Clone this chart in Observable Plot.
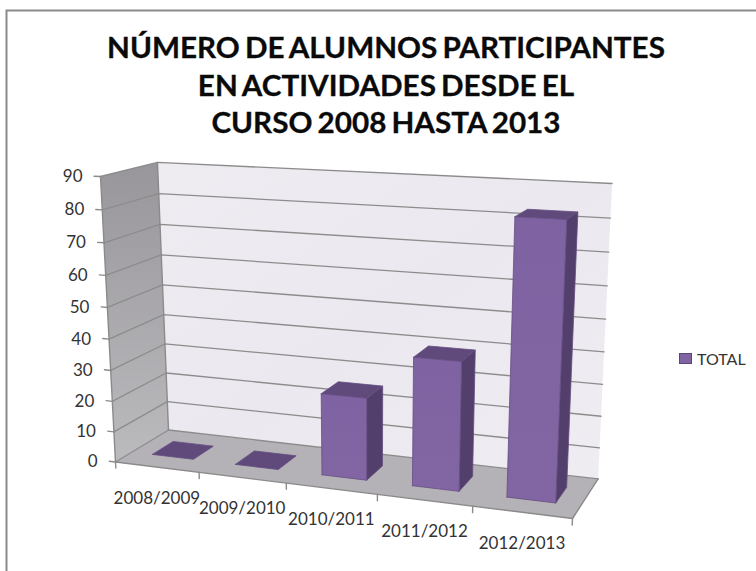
<!DOCTYPE html>
<html lang="es">
<head>
<meta charset="utf-8">
<script src="https://cdn.jsdelivr.net/npm/d3@7"></script>
<script src="https://cdn.jsdelivr.net/npm/@observablehq/plot@0.6"></script>
<style>
  html, body { margin: 0; padding: 0; background: #fff; }
  #chart { position: relative; width: 756px; height: 571px; overflow: hidden; font-family: Lato, sans-serif; }
  #chart svg { position: absolute; left: 0; top: 0; }
  #title { position: absolute; left: 0; top: 29px; width: 772px; text-align: center; font-weight: 700; font-size: 28px; line-height: 37.5px; color: #0a0a0a; word-spacing: -2px; -webkit-text-stroke: 0.3px #0a0a0a; transform: scaleX(1.06); transform-origin: 386px 0; z-index: 1; }
  #legend { position: absolute; left: 679px; top: 350px; display: flex; align-items: center; gap: 5px; font-size: 16px; line-height: 17px; color: #333; z-index: 1; }
  #legend i { display: block; width: 11px; height: 9px; background: #8064a2; border: 1px solid #5c4776; }
</style>
</head>
<body>
<div id="chart">
  <div id="title">NÚMERO DE ALUMNOS PARTICIPANTES<br>EN ACTIVIDADES DESDE EL<br>CURSO 2008 HASTA 2013</div>
  <div id="legend"><i></i><span>TOTAL</span></div>
</div>
<script>
// Data
const categories = ["2008/2009", "2009/2010", "2010/2011", "2011/2012", "2012/2013"];
const totals = [0, 0, 26, 40, 83];
const valueTicks = [0, 10, 20, 30, 40, 50, 60, 70, 80, 90];
const seriesName = "TOTAL";

// Perspective camera of the 3-D chart box (a = category 0..1, b = value 0..1, c = depth 0..1)
const cameraX = [115, 396.94, -20.57, 64.76];
const cameraY = [461.5, 2.11, -295.3, -1.93];
const cameraD = [1, -0.105, -0.0557, 0.07];
const valueMax = 90;
const barInset = 0.25;            // gap width 100 %
const barDepth = [0.3, 0.7];      // depth gap 150 %

const colors = {
  back: "url(#backWall)", side: "url(#sideWall)", floor: "#b4b2b6",
  grid: "#8c8c8c", axis: "#8a8a8a", front: "url(#barFront)", barSide: "#533f6c", barTop: "#5f4a7b",
  edge: "#644d82", text: "#333333"
};

function project(cat, value, depth) {
  const p = [1, cat / categories.length, value / valueMax, depth];
  const dot = (m) => d3.sum(m, (k, i) => k * p[i]);
  const d = dot(cameraD);
  return {x: dot(cameraX) / d, y: dot(cameraY) / d};
}
const n = categories.length;

// Closed faces and open strokes, all expressed in data space and passed through the camera
const face = (id, fill, corners) =>
  [...corners, corners[0]].map(([c, v, w]) => ({id, fill, ...project(c, v, w)}));
const stroke = (id, corners) => corners.map(([c, v, w]) => ({id, ...project(c, v, w)}));

const walls = [
  ...face("back", colors.back, [[0, 0, 1], [n, 0, 1], [n, valueMax, 1], [0, valueMax, 1]]),
  ...face("side", colors.side, [[0, 0, 0], [0, 0, 1], [0, valueMax, 1], [0, valueMax, 0]]),
  ...face("floor", colors.floor, [[0, 0, 0], [n, 0, 0], [n, 0, 1], [0, 0, 1]])
];
const gridLines = valueTicks.flatMap((v) => [
  ...stroke("g" + v, [[0, v, 0], [0, v, 1], [n, v, 1]])
]);
const axisLines = [
  ...stroke("yAxis", [[0, 0, 0], [0, valueMax, 0]]),
  ...stroke("sideBack", [[0, 0, 1], [0, valueMax, 1]]),
  ...stroke("xAxis", [[0, 0, 0], [n, 0, 0], [n, 0, 1]]),
  ...valueTicks.flatMap((v) => stroke("yt" + v, [[-0.075, v, 0], [0, v, 0]])),
  ...d3.range(n + 1).flatMap((i) => stroke("xt" + i, [[i, 0, 0], [i, -2, 0]]))
];
const bars = totals.flatMap((v, i) => {
  const l = i + barInset, r = i + 1 - barInset, [f, b] = barDepth;
  if (v === 0) return face("t" + i, colors.barTop, [[l, 0, f], [r, 0, f], [r, 0, b], [l, 0, b]]);
  return [
    ...face("s" + i, colors.barSide, [[r, 0, f], [r, 0, b], [r, v, b], [r, v, f]]),
    ...face("t" + i, colors.barTop, [[l, v, f], [r, v, f], [r, v, b], [l, v, b]]),
    ...face("f" + i, colors.front, [[l, 0, f], [r, 0, f], [r, v, f], [l, v, f]])
  ];
});
const valueLabels = valueTicks.map((v) => ({label: String(v), ...project(0, v, 0)}));
const categoryLabels = categories.map((label, i) => ({label, ...project(i + 0.5, 0, 0)}));

const defs = () => {
  const svg = d3.create("svg:defs");
  const grad = (id, x2, y2, stops) => {
    const g = svg.append("linearGradient").attr("id", id).attr("x1", 0).attr("y1", 0).attr("x2", x2).attr("y2", y2);
    stops.forEach(([o, c]) => g.append("stop").attr("offset", o).attr("stop-color", c));
  };
  grad("sideWall", 0, 1, [[0, "#98969a"], [1, "#bbbabd"]]);
  grad("backWall", 1, 1, [[0, "#eeecf1"], [0.5, "#ebe9ef"], [1, "#efedf2"]]);
  grad("barFront", 0, 1, [[0, "#7f62a1"], [1, "#8266a4"]]);
  return svg.node();
};

const plot = Plot.plot({
  width: 756, height: 571,
  margin: 0,
  style: {background: "transparent", fontFamily: "Lato, sans-serif"},
  x: {domain: [0, 756], range: [0, 756], axis: null},
  y: {domain: [0, 571], range: [0, 571], axis: null},
  color: {type: "identity"},
  marks: [
    defs,
    Plot.frame({stroke: "#8a8a8a", strokeWidth: 2, insetLeft: 6, insetTop: 10, insetRight: -6, insetBottom: -6}),
    Plot.line(walls, {x: "x", y: "y", z: "id", fill: "fill", stroke: "none"}),
    Plot.line(gridLines, {x: "x", y: "y", z: "id", stroke: colors.grid, strokeWidth: 1.3}),
    Plot.line(axisLines, {x: "x", y: "y", z: "id", stroke: colors.axis, strokeWidth: 1.4}),
    Plot.line(bars, {x: "x", y: "y", z: "id", fill: "fill", stroke: colors.edge, strokeWidth: 0.8, strokeLinejoin: "round"}),
    Plot.text(valueLabels, {x: "x", y: "y", text: "label", textAnchor: "end", dx: -18, fontSize: 17, fill: colors.text}),
    Plot.text(categoryLabels, {x: "x", y: "y", text: "label", dy: 31, fontSize: 17, fill: colors.text})
  ]
});
document.getElementById("chart").append(plot);
document.querySelector("#legend span").textContent = seriesName;
</script>
</body>
</html>
